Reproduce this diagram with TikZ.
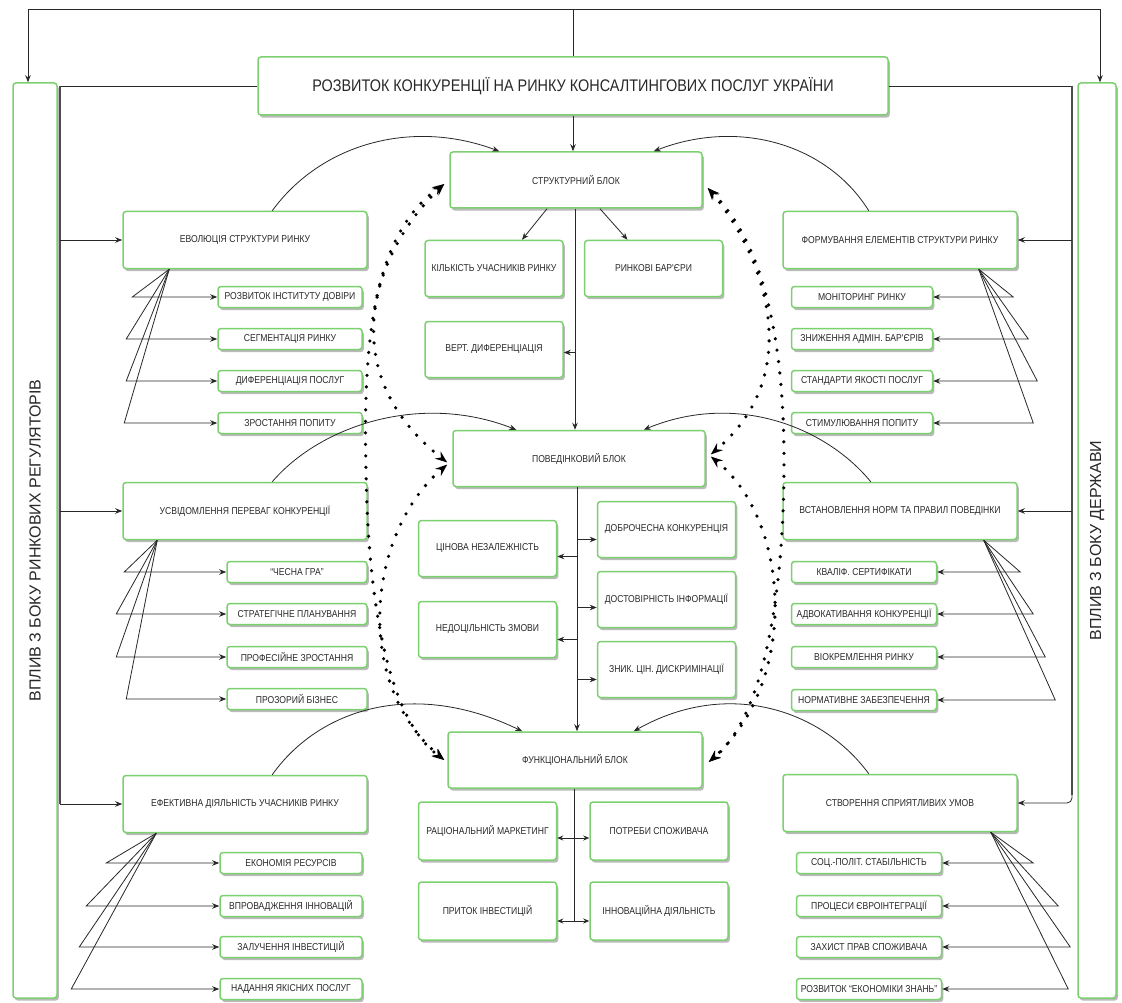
\documentclass[tikz,border=0pt]{standalone}
\usepackage{fontspec}
\newfontfamily\bxfont[FakeStretch=0.86]{Liberation Sans}
\newfontfamily\sdfont{Liberation Sans}
\usetikzlibrary{arrows.meta,shadows,calc}
\definecolor{grn}{RGB}{125,208,112}
\definecolor{ink}{RGB}{40,40,40}
\begin{document}
\begin{tikzpicture}[x=1pt,y=-1pt,
  box/.style={draw=grn, line width=1.5pt, fill=white, rounded corners=3pt,
    drop shadow={shadow xshift=1.8pt, shadow yshift=-2.6pt, fill=black!45, opacity=0.6},
    inner sep=1pt, align=center, text=ink, font=\bxfont\fontsize{10}{12}\selectfont},
  mainl/.style={box, minimum width=244pt, minimum height=57pt},
  mainr/.style={box, minimum width=234pt, minimum height=57pt},
  sub/.style={box, minimum height=21pt},
  blk/.style={box, minimum width=252pt, minimum height=56pt},
  cb/.style={box, minimum width=138pt, minimum height=56pt},
  arr/.style={draw=ink, line width=0.8pt, -{Stealth[length=7pt,width=5.5pt]}},
  arrs/.style={draw=ink, line width=0.8pt, {Stealth[length=6pt,width=5pt]}-{Stealth[length=6pt,width=5pt]}},
  ln/.style={draw=ink, line width=0.8pt},
  bus/.style={draw=black!70, line width=2pt},
  dotarc/.style={draw=black, line width=3.6pt, line cap=round, dash pattern=on 0pt off 11.5pt,
    {Stealth[length=12pt,width=9pt]}-{Stealth[length=12pt,width=9pt]}}
]
\fill[white] (0,0) rectangle (1122,1003);
\useasboundingbox (0,0) rectangle (1122,1003);

% title and side boxes
\node[box, minimum width=630pt, minimum height=58pt, font=\bxfont\fontsize{16.8}{18}\selectfont] (title) at (573,86) {РОЗВИТОК КОНКУРЕНЦІЇ НА РИНКУ КОНСАЛТИНГОВИХ ПОСЛУГ УКРАЇНИ};
\node[box, minimum width=44pt, minimum height=915pt] (lv) at (35,540.5) {};
\node[box, minimum width=38pt, minimum height=915pt] (rv) at (1097,540.5) {};
\node[rotate=90, text=ink, font=\sdfont\fontsize{16}{17}\selectfont] (lvt) at (lv.center) {ВПЛИВ З БОКУ РИНКОВИХ РЕГУЛЯТОРІВ};
\node[rotate=90, text=ink, font=\sdfont\fontsize{16}{17}\selectfont] (rvt) at (rv.center) {ВПЛИВ З БОКУ ДЕРЖАВИ};

% left main boxes
\node[mainl] (evo) at (245,240) {ЕВОЛЮЦІЯ СТРУКТУРИ РИНКУ};
\node[mainl] (usv) at (245,511) {УСВІДОМЛЕННЯ ПЕРЕВАГ КОНКУРЕНЦІЇ};
\node[mainl] (efe) at (245,804) {ЕФЕКТИВНА ДІЯЛЬНІСТЬ УЧАСНИКІВ РИНКУ};
% right main boxes
\node[mainr] (form) at (900,240) {ФОРМУВАННЯ ЕЛЕМЕНТІВ СТРУКТУРИ РИНКУ};
\node[mainr] (vst) at (900,511) {ВСТАНОВЛЕННЯ НОРМ ТА ПРАВИЛ ПОВЕДІНКИ};
\node[mainr] (stv) at (900,803) {СТВОРЕННЯ СПРИЯТЛИВИХ УМОВ};

% left sub boxes
\node[sub, minimum width=144pt] (s11) at (290,297) {РОЗВИТОК ІНСТИТУТУ ДОВІРИ};
\node[sub, minimum width=144pt] (s12) at (290,339) {СЕГМЕНТАЦІЯ РИНКУ};
\node[sub, minimum width=144pt] (s13) at (290,381) {ДИФЕРЕНЦІАЦІЯ ПОСЛУГ};
\node[sub, minimum width=144pt] (s14) at (290,423) {ЗРОСТАННЯ ПОПИТУ};
\node[sub, minimum width=140pt] (s21) at (297,572) {“ЧЕСНА ГРА”};
\node[sub, minimum width=140pt] (s22) at (297,614) {СТРАТЕГІЧНЕ ПЛАНУВАННЯ};
\node[sub, minimum width=140pt] (s23) at (297,657) {ПРОФЕСІЙНЕ ЗРОСТАННЯ};
\node[sub, minimum width=140pt] (s24) at (297,699) {ПРОЗОРИЙ БІЗНЕС};
\node[sub, minimum width=142pt] (s31) at (291,863) {ЕКОНОМІЯ РЕСУРСІВ};
\node[sub, minimum width=142pt] (s32) at (291,906) {ВПРОВАДЖЕННЯ ІННОВАЦІЙ};
\node[sub, minimum width=142pt] (s33) at (291,947) {ЗАЛУЧЕННЯ ІНВЕСТИЦІЙ};
\node[sub, minimum width=142pt] (s34) at (291,989) {НАДАННЯ ЯКІСНИХ ПОСЛУГ};
% right sub boxes
\node[sub, minimum width=141pt] (r11) at (862,297) {МОНІТОРИНГ РИНКУ};
\node[sub, minimum width=141pt] (r12) at (862,339) {ЗНИЖЕННЯ АДМІН. БАР'ЄРІВ};
\node[sub, minimum width=141pt] (r13) at (862,381) {СТАНДАРТИ ЯКОСТІ ПОСЛУГ};
\node[sub, minimum width=141pt] (r14) at (862,423) {СТИМУЛЮВАННЯ ПОПИТУ};
\node[sub, minimum width=145pt] (r21) at (864,572) {КВАЛІФ. СЕРТИФІКАТИ};
\node[sub, minimum width=145pt] (r22) at (864,614) {АДВОКАТИВАННЯ КОНКУРЕНЦІЇ};
\node[sub, minimum width=145pt] (r23) at (864,657) {ВІОКРЕМЛЕННЯ РИНКУ};
\node[sub, minimum width=145pt] (r24) at (864,700) {НОРМАТИВНЕ ЗАБЕЗПЕЧЕННЯ};
\node[sub, minimum width=145pt] (r31) at (869,863) {СОЦ.-ПОЛІТ. СТАБІЛЬНІСТЬ};
\node[sub, minimum width=145pt] (r32) at (869,906) {ПРОЦЕСИ ЄВРОІНТЕГРАЦІЇ};
\node[sub, minimum width=145pt] (r33) at (869,947) {ЗАХИСТ ПРАВ СПОЖИВАЧА};
\node[sub, minimum width=145pt] (r34) at (869,989) {РОЗВИТОК “ЕКОНОМІКИ ЗНАНЬ”};

% central blocks
\node[blk] (str) at (576,180) {СТРУКТУРНИЙ БЛОК};
\node[cb] (kil) at (494,268.5) {КІЛЬКІСТЬ УЧАСНИКІВ РИНКУ};
\node[cb] (bar) at (653.5,268.5) {РИНКОВІ БАР'ЄРИ};
\node[cb] (vert) at (494,349.5) {ВЕРТ. ДИФЕРЕНЦІАЦІЯ};
\node[blk] (pov) at (579,458.5) {ПОВЕДІНКОВИЙ БЛОК};
\node[cb] (cin) at (487.5,548.5) {ЦІНОВА НЕЗАЛЕЖНІСТЬ};
\node[cb] (ned) at (487.5,629.5) {НЕДОЦІЛЬНІСТЬ ЗМОВИ};
\node[cb] (dob) at (666.5,529.5) {ДОБРОЧЕСНА КОНКУРЕНЦІЯ};
\node[cb] (dos) at (666.5,599.5) {ДОСТОВІРНІСТЬ ІНФОРМАЦІЇ};
\node[cb] (zn) at (666.5,669.5) {ЗНИК. ЦІН. ДИСКРИМІНАЦІЇ};
\node[blk, minimum width=254pt] (fun) at (575,760) {ФУНКЦІОНАЛЬНИЙ БЛОК};
\node[cb, minimum height=58pt] (rac) at (487.5,831) {РАЦІОНАЛЬНИЙ МАРКЕТИНГ};
\node[cb, minimum height=58pt] (pot) at (659,831) {ПОТРЕБИ СПОЖИВАЧА};
\node[cb, minimum height=58pt] (pri) at (487.5,911) {ПРИТОК ІНВЕСТИЦІЙ};
\node[cb, minimum height=58pt] (inn) at (659,911) {ІННОВАЦІЙНА ДІЯЛЬНІСТЬ};

% top distribution
\coordinate (tl) at (28,9);
\coordinate (tr) at (1100,9);
\draw[ln] (title.north) -- (title.north |- tl);
\draw[arr] (title.north |- tl) -- (tl) -- (tl |- lv.north);
\draw[arr] (title.north |- tl) -- (tr) -- (tr |- rv.north);
\draw[arr] (title.south) -- (title.south |- str.north);

% left bus
\coordinate (lb) at (60,0);
\draw[ln] (title.west) -- (title.west -| lb);
\draw[bus] (title.west -| lb) -- (lb |- efe.west);
\draw[arr] (lb |- evo.west) -- (evo.west);
\draw[arr] (lb |- usv.west) -- (usv.west);
\draw[arr] (lb |- efe.west) -- (efe.west);
% right bus
\coordinate (rb) at (1072,0);
\draw[ln] (title.east) -- (title.east -| rb);
\draw[bus] (title.east -| rb) -- ($(rb |- stv.east)+(0,-8)$);
\draw[arr] (rb |- form.east) -- (form.east);
\draw[arr] (rb |- vst.east) -- (vst.east);
\draw[arr, rounded corners=5pt] ($(rb |- stv.east)+(0,-8)$) -- (rb |- stv.east) -- (stv.east);

% left fans
\coordinate (a1) at ([xshift=47pt]evo.south west);
\coordinate (a2) at ([xshift=35pt]usv.south west);
\coordinate (a3) at ([xshift=34pt]efe.south west);
\draw[arr] (a1) -- ([xshift=-85pt]s11.west) -- (s11.west);
\draw[arr] (a1) -- ([xshift=-91pt]s12.west) -- (s12.west);
\draw[arr] (a1) -- ([xshift=-91pt]s13.west) -- (s13.west);
\draw[arr] (a1) -- ([xshift=-93pt]s14.west) -- (s14.west);
\draw[arr] (a2) -- ([xshift=-102pt]s21.west) -- (s21.west);
\draw[arr] (a2) -- ([xshift=-110pt]s22.west) -- (s22.west);
\draw[arr] (a2) -- ([xshift=-110pt]s23.west) -- (s23.west);
\draw[arr] (a2) -- ([xshift=-100pt]s24.west) -- (s24.west);
\draw[arr] (a3) -- ([xshift=-113pt]s31.west) -- (s31.west);
\draw[arr] (a3) -- ([xshift=-133pt]s32.west) -- (s32.west);
\draw[arr] (a3) -- ([xshift=-140pt]s33.west) -- (s33.west);
\draw[arr] (a3) -- ([xshift=-148pt]s34.west) -- (s34.west);
% right fans
\coordinate (b1) at ([xshift=-39pt]form.south east);
\coordinate (b2) at ([xshift=-34pt]vst.south east);
\coordinate (b3) at ([xshift=-27pt]stv.south east);
\draw[arr] (b1) -- ([xshift=80pt]r11.east) -- (r11.east);
\draw[arr] (b1) -- ([xshift=95pt]r12.east) -- (r12.east);
\draw[arr] (b1) -- ([xshift=104pt]r13.east) -- (r13.east);
\draw[arr] (b1) -- ([xshift=100pt]r14.east) -- (r14.east);
\draw[arr] (b2) -- ([xshift=83pt]r21.east) -- (r21.east);
\draw[arr] (b2) -- ([xshift=96pt]r22.east) -- (r22.east);
\draw[arr] (b2) -- ([xshift=108pt]r23.east) -- (r23.east);
\draw[arr] (b2) -- ([xshift=118pt]r24.east) -- (r24.east);
\draw[arr] (b3) -- ([xshift=91pt]r31.east) -- (r31.east);
\draw[arr] (b3) -- ([xshift=116pt]r32.east) -- (r32.east);
\draw[arr] (b3) -- ([xshift=128pt]r33.east) -- (r33.east);
\draw[arr] (b3) -- ([xshift=126pt]r34.east) -- (r34.east);

% structural block links
\coordinate (cv) at (575,0);
\draw[arr] ([xshift=-29pt]str.south) -- ([xshift=28pt]kil.north);
\draw[arr] ([xshift=24pt]str.south) -- ([xshift=-26pt]bar.north);
\draw[arr] (str.south -| cv) -- (pov.north -| cv);
\draw[arr] ($(cv |- vert.east)+(0,3)$) -- ($(vert.east)+(0,3)$);
% behavioural block links
\coordinate (pv) at (577,0);
\draw[arr] (pov.south -| pv) -- (fun.north -| pv);
\draw[arr] ($(pv |- cin.east)+(0,8)$) -- ($(cin.east)+(0,8)$);
\draw[arr] ($(pv |- ned.east)+(0,10)$) -- ($(ned.east)+(0,10)$);
\draw[arr] ($(pv |- dob.west)+(0,10)$) -- ($(dob.west)+(0,10)$);
\draw[arr] ($(pv |- dos.west)+(0,8)$) -- ($(dos.west)+(0,8)$);
\draw[arr] ($(pv |- zn.west)+(0,10)$) -- ($(zn.west)+(0,10)$);
% functional block links
\coordinate (fv) at (574,0);
\draw[ln] (fun.south -| fv) -- ($(fv |- pri.east)+(0,10)$);
\draw[arrs] ($(rac.east)+(0,7)$) -- ($(pot.west)+(0,7)$);
\draw[arrs] ($(pri.east)+(0,10)$) -- ($(inn.west)+(0,10)$);

% curved influence arrows
\draw[arr] ([xshift=150pt]evo.north west) .. controls (320,145) and (410,118) .. ([xshift=50pt]str.north west);
\draw[arr] ([xshift=-149pt]form.north east) .. controls (828,145) and (740,118) .. ([xshift=-49pt]str.north east);
\draw[arr] ([xshift=150pt]usv.north west) .. controls (320,426) and (420,392) .. ([xshift=64pt]pov.north west);
\draw[arr] ([xshift=-147pt]vst.north east) .. controls (825,426) and (735,392) .. ([xshift=-62pt]pov.north east);
\draw[arr] ([xshift=150pt]efe.north west) .. controls (318,710) and (412,678) .. ([xshift=75pt]fun.north west);
\draw[arr] ([xshift=-149pt]stv.north east) .. controls (822,710) and (728,678) .. ([xshift=-69pt]fun.north east);

% dotted feedback arcs
\draw[dotarc] ($(str.west)+(-5,4)$) .. controls (380,230) and (362,320) .. (366,470) .. controls (368,610) and (390,720) .. ($(fun.west)+(-3,0)$);
\draw[dotarc] ($(str.west)+(-5,4)$) .. controls (375,250) and (330,370) .. ($(pov.west)+(-5,4)$);
\draw[dotarc] ($(pov.west)+(-5,6)$) .. controls (370,530) and (350,680) .. ($(fun.west)+(-3,0)$);
\draw[dotarc] ($(str.east)+(5,8)$) .. controls (760,240) and (785,330) .. (784,470) .. controls (783,610) and (760,720) .. ($(fun.east)+(6,2)$);
\draw[dotarc] ($(str.east)+(5,8)$) .. controls (760,250) and (810,370) .. ($(pov.east)+(5,-4)$);
\draw[dotarc] ($(pov.east)+(5,-2)$) .. controls (790,520) and (800,680) .. ($(fun.east)+(6,2)$);
\end{tikzpicture}
\end{document}
